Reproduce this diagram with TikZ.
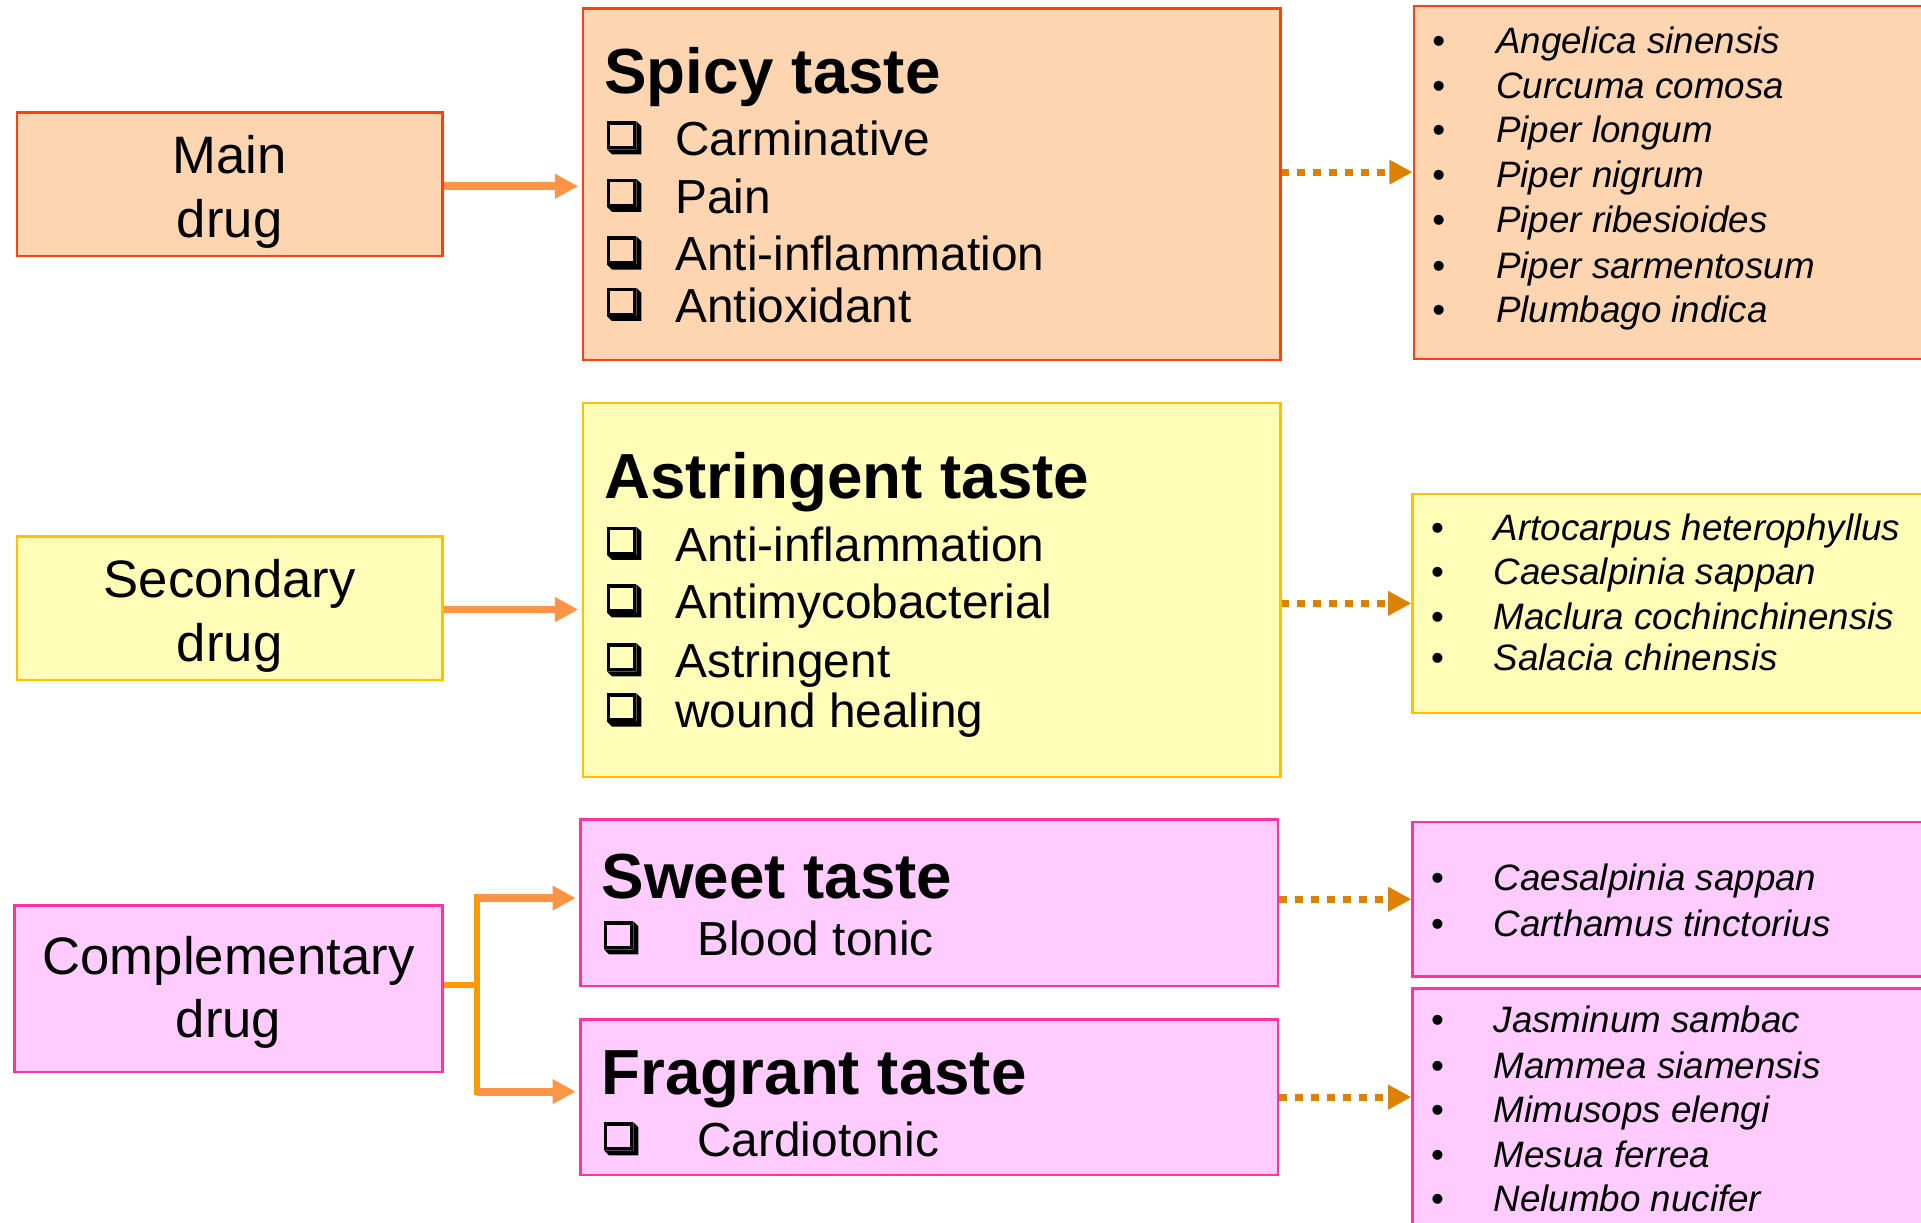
\documentclass[tikz,border=0pt]{standalone}
\usepackage{fontspec}
\setmainfont{Liberation Sans}
\usetikzlibrary{arrows.meta,calc}

\definecolor{peach}{HTML}{FDD5B0}
\definecolor{peachline}{HTML}{FF3F10}
\definecolor{lemon}{HTML}{FFFDB8}
\definecolor{lemonline}{HTML}{FFC000}
\definecolor{pinkfill}{HTML}{FFCCFF}
\definecolor{pinkline}{HTML}{FF3399}
\definecolor{arrowor}{HTML}{FF9447}
\definecolor{forkor}{HTML}{FF9900}
\definecolor{dotor}{HTML}{DD8200}

% check box with a lower-right shadow, top-left corner given in picture coordinates
\newcommand\chkbox[1]{%
  \begin{scope}[shift={(#1)}]
    \fill[black] (24,0) -- (28,4) -- (28,27) -- (4,27) -- (0,23) -- (24,23) -- cycle;
    \draw[line width=2.7pt] (1.35,1.35) rectangle (22.65,21.65);
  \end{scope}}

\tikzset{
  box/.style={draw, rectangle, line width=2pt, inner sep=0pt},
  spicystyle/.style={box, fill=peach, draw=peachline},
  astrstyle/.style={box, fill=lemon, draw=lemonline},
  pinkstyle/.style={box, fill=pinkfill, draw=pinkline},
  drugtext/.style={align=center, inner sep=0pt, font=\fontsize{43}{52}\selectfont},
  titletext/.style={anchor=base west, inner sep=0pt, font=\fontsize{52}{60}\selectfont\bfseries},
  itemtext/.style={anchor=base west, inner sep=0pt, font=\fontsize{39}{46}\selectfont},
  spectext/.style={anchor=base west, inner sep=0pt, font=\fontsize{30}{36}\selectfont\itshape},
  bullettext/.style={anchor=base west, inner sep=0pt, font=\fontsize{30}{36}\selectfont},
  solidarrow/.style={draw=arrowor, line width=6.5pt, shorten >=3pt, -{Triangle[length=19pt,width=19pt]}},
  forkline/.style={draw=forkor, line width=5pt},
  dotarrow/.style={draw=dotor, line width=5.8pt, dash pattern=on 6.5pt off 6.5pt, -{Triangle[length=19pt,width=19pt]}}
}

\begin{document}
\begin{tikzpicture}[x=1pt, y=-1pt]
\useasboundingbox (0,0) rectangle (1568,998);
\clip (0,0) rectangle (1568,998);

% left column: drug ranks
\node[spicystyle, minimum width=347pt, minimum height=117pt] (main) at (187.5,150.5) {};
\node[astrstyle, minimum width=347pt, minimum height=117pt] (secondary) at (187.5,496.5) {};
\node[pinkstyle, minimum width=349pt, minimum height=136pt] (comp) at (186.5,807) {};
\node[drugtext] (mainT) at ([yshift=-6pt]main.center) {Main\\drug};
\node[drugtext] (secondaryT) at ([yshift=-6pt]secondary.center) {Secondary\\drug};
\node[drugtext] (compT) at ([yshift=-3pt]comp.center) {Complementary\\drug};

% middle column: tastes and their actions
\node[spicystyle, minimum width=569pt, minimum height=287pt] (spicy) at (760.5,150.5) {};
\node[astrstyle, minimum width=569pt, minimum height=305pt] (astr) at (760.5,481.5) {};
\node[pinkstyle, minimum width=569pt, minimum height=136pt] (sweet) at (758.5,737) {};
\node[pinkstyle, minimum width=569pt, minimum height=127pt] (frag) at (758.5,895.5) {};

\node[titletext] (spicyT) at (493,76) {Spicy taste};
\node[itemtext] (sp1) at (551,127) {Carminative};
\node[itemtext] (sp2) at (551,174) {Pain};
\node[itemtext] (sp3) at (551,221) {Anti-inflammation};
\node[itemtext] (sp4) at (551,263) {Antioxidant};
\chkbox{495.5,99} \chkbox{495.5,146} \chkbox{495.5,193} \chkbox{495.5,235}

\node[titletext] (astrT) at (493,407) {Astringent taste};
\node[itemtext] (as1) at (551,458) {Anti-inflammation};
\node[itemtext] (as2) at (551,505) {Antimycobacterial};
\node[itemtext] (as3) at (551,553) {Astringent};
\node[itemtext] (as4) at (551,594) {wound healing};
\chkbox{495.5,430} \chkbox{495.5,477} \chkbox{495.5,525} \chkbox{495.5,566}

\node[titletext] (sweetT) at (491,733) {Sweet taste};
\node[itemtext] (sw1) at (569,780) {Blood tonic};
\chkbox{493,752}

\node[titletext] (fragT) at (491,893) {Fragrant taste};
\node[itemtext] (fr1) at (569,944) {Cardiotonic};
\chkbox{493,916}

% right column: plant species
\node[spicystyle, minimum width=446pt, minimum height=288pt] (spicylist) at (1377,149) {};
\node[astrstyle, minimum width=447pt, minimum height=179pt] (astrlist) at (1376.5,492.5) {};
\node[pinkstyle, minimum width=447pt, minimum height=126pt] (sweetlist) at (1376.5,734) {};
\node[pinkstyle, minimum width=447pt, minimum height=213pt] (fraglist) at (1376.5,913.5) {};

\foreach \y/\name [count=\i] in {44/Angelica sinensis, 80/Curcuma comosa, 116/Piper longum,
    153/Piper nigrum, 190/Piper ribesioides, 227/Piper sarmentosum, 263/Plumbago indica} {
  \node[bullettext] (spb\i) at (1169,\y) {•};
  \node[spectext] (sps\i) at (1221,\y) {\name};
}
\foreach \y/\name [count=\i] in {441/Artocarpus heterophyllus, 477/Caesalpinia sappan,
    514/Maclura cochinchinensis, 547/Salacia chinensis} {
  \node[bullettext] (asb\i) at (1168,\y) {•};
  \node[spectext] (ass\i) at (1219,\y) {\name};
}
\foreach \y/\name [count=\i] in {727/Caesalpinia sappan, 764/Carthamus tinctorius} {
  \node[bullettext] (swb\i) at (1168,\y) {•};
  \node[spectext] (sws\i) at (1219,\y) {\name};
}
\foreach \y/\name [count=\i] in {843/Jasminum sambac, 880/Mammea siamensis, 916/Mimusops elengi,
    953/Mesua ferrea, 989/Nelumbo nucifer} {
  \node[bullettext] (frb\i) at (1168,\y) {•};
  \node[spectext] (frs\i) at (1219,\y) {\name};
}

% drug rank to taste
\draw[solidarrow] ([yshift=-1.5pt]main.east) -- ([yshift=-1.5pt]main.east -| spicy.west);
\draw[solidarrow] ([yshift=-1pt]secondary.east) -- ([yshift=-1pt]secondary.east -| astr.west);
\coordinate (fork) at (389,804);
\coordinate (forkup) at ([yshift=4pt]fork |- sweet.west);
\coordinate (forkdown) at ([yshift=4.5pt]fork |- frag.west);
\draw[forkline] (comp.east |- fork) -- (fork);
\draw[forkline] ([yshift=3pt]forkup) -- ([yshift=-3pt]forkdown);
\draw[solidarrow] (forkup) -- (forkup -| sweet.west);
\draw[solidarrow] (forkdown) -- (forkdown -| frag.west);

% taste to species
\draw[dotarrow] ([yshift=10pt]spicy.east) -- ([yshift=10pt]spicy.east -| spicylist.west);
\draw[dotarrow] (astr.east |- astrlist.west) -- (astrlist.west);
\draw[dotarrow] (sweet.east |- sweetlist.west) -- (sweetlist.west);
\draw[dotarrow] (frag.east) -- (frag.east -| fraglist.west);
\end{tikzpicture}
\end{document}
